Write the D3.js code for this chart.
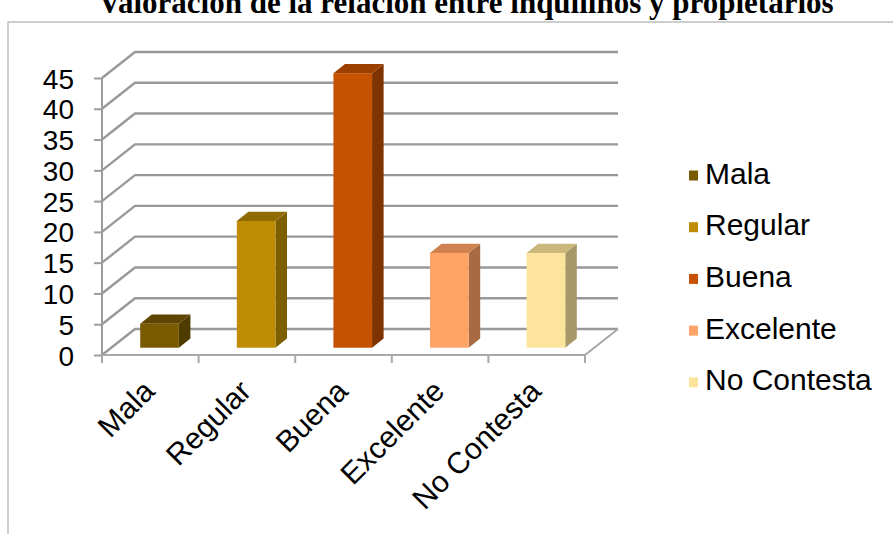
<!DOCTYPE html>
<html>
<head>
<meta charset="utf-8">
<script src="https://cdn.jsdelivr.net/npm/d3@7"></script>
<style>
  body { margin: 0; background: #fff; }
  svg { display: block; }
  text { font-family: "Liberation Sans", Arial, sans-serif; fill: #000; }
</style>
</head>
<body>
<div id="container"></div>
<script>
// chart data
var categories = ["Mala", "Regular", "Buena", "Excelente", "No Contesta"];
var values = [3.9, 20.6, 44.6, 15.4, 15.4];
var yTicks = [0, 5, 10, 15, 20, 25, 30, 35, 40, 45];
var titleText = "Valoración de la relación entre inquilinos y propietarios";

// colours per category: front, top, side
var frontColors = ["#7a5a00", "#bf8c05", "#c55200", "#ffa466", "#fde49d"];
var topColors = ["#5f4600", "#8f6a00", "#9c4000", "#cf8150", "#cbb67c"];
var sideColors = ["#4f3a00", "#7f5e00", "#7f3300", "#a86a42", "#a89868"];

var w = 893, h = 534;

var svg = d3.select("div#container")
  .append("svg")
  .attr("width", w)
  .attr("height", h);

// frame + title (title is clipped by the top edge, as in the source)
svg.append("path")
  .attr("d", "M8,534V22H893")
  .attr("fill", "none")
  .attr("stroke", "#bdbdbd")
  .attr("stroke-width", 1.5);

svg.append("text")
  .attr("x", 466)
  .attr("y", 13)
  .attr("text-anchor", "middle")
  .style("font-family", "'Liberation Serif', 'Times New Roman', serif")
  .style("font-weight", "bold")
  .style("font-size", "31px")
  .text(titleText);

// 3d-ish geometry
var x0 = 102, x1 = 585;
var DX = 33, DY = 26;   // wall depth offset
var f0 = 0.28, fd = 0.35; // bar depth start / depth fraction

var y = d3.scaleLinear().domain([0, 45]).range([355, 78]);
var x = d3.scaleBand().domain(categories).range([x0, x1])
  .paddingInner(0.6).paddingOuter(0.3);

// left wall diagonals + back wall gridlines
var grid = svg.append("g").attr("class", "grid");
yTicks.forEach(function(t) {
  grid.append("path")
    .attr("d", "M" + x0 + "," + y(t) + "L" + (x0 + DX) + "," + (y(t) - DY) + "H" + (x1 + DX))
    .attr("fill", "none")
    .attr("stroke", "#999")
    .attr("stroke-width", 2.4)
    .attr("stroke-linejoin", "round");
});

// floor front edge and right edge
svg.append("path")
  .attr("d", "M" + x0 + "," + y(0) + "H" + x1 + "L" + (x1 + DX) + "," + (y(0) - DY))
  .attr("fill", "none")
  .attr("stroke", "#a8a8a8")
  .attr("stroke-width", 2);

// y axis
var yAxis = d3.axisLeft(y).tickValues(yTicks).tickSize(8).tickPadding(20);
var ya = svg.append("g")
  .attr("transform", "translate(" + x0 + ",0)")
  .call(yAxis);
ya.select(".domain").remove();
ya.selectAll("line").attr("stroke", "#9c9c9c").attr("stroke-width", 2);
ya.selectAll("text")
  .style("font-size", "28px")
  .style("font-family", "'Liberation Sans', Arial, sans-serif")
  .attr("dy", "0.36em");
svg.append("line")
  .attr("x1", x0).attr("x2", x0)
  .attr("y1", y(45)).attr("y2", y(0) + 8)
  .attr("stroke", "#9c9c9c").attr("stroke-width", 2);

// x ticks at category boundaries
var bounds = d3.range(categories.length + 1).map(function(i) { return x0 + i * x.step(); });
svg.append("g").selectAll("line")
  .data(bounds)
  .join("line")
  .attr("x1", function(d) { return d; })
  .attr("x2", function(d) { return d; })
  .attr("y1", y(0))
  .attr("y2", y(0) + 8)
  .attr("stroke", "#a8a8a8")
  .attr("stroke-width", 2);

// x labels
svg.append("g").selectAll("text")
  .data(categories)
  .join("text")
  .attr("text-anchor", "end")
  .attr("transform", function(d) {
    return "translate(" + (x(d) + x.bandwidth() / 2 + 6) + ",393) rotate(-45)";
  })
  .style("font-size", "30px")
  .text(function(d) { return d; });

// bars
var bw = x.bandwidth();
var ox = f0 * DX, oy = f0 * DY, dx = fd * DX, dy = fd * DY;
var bars = svg.append("g").selectAll("g")
  .data(categories)
  .join("g");

bars.append("path") // side
  .attr("d", function(d, i) {
    var l = x(d) + ox + bw, t = y(values[i]) - oy, b = y(0) - oy;
    return "M" + l + "," + t + "L" + (l + dx) + "," + (t - dy) + "L" + (l + dx) + "," + (b - dy) + "L" + l + "," + b + "Z";
  })
  .attr("fill", function(d, i) { return sideColors[i]; });

bars.append("path") // top
  .attr("d", function(d, i) {
    var l = x(d) + ox, t = y(values[i]) - oy;
    return "M" + l + "," + t + "L" + (l + bw) + "," + t + "L" + (l + bw + dx) + "," + (t - dy) + "L" + (l + dx) + "," + (t - dy) + "Z";
  })
  .attr("fill", function(d, i) { return topColors[i]; });

bars.append("rect") // front
  .attr("x", function(d) { return x(d) + ox; })
  .attr("y", function(d, i) { return y(values[i]) - oy; })
  .attr("width", bw)
  .attr("height", function(d, i) { return y(0) - y(values[i]); })
  .attr("fill", function(d, i) { return frontColors[i]; });

// legend
var legend = svg.append("g").selectAll("g")
  .data(categories)
  .join("g")
  .attr("transform", function(d, i) { return "translate(689," + (183.5 + i * 51.7) + ")"; });

legend.append("rect")
  .attr("x", 0).attr("y", -13)
  .attr("width", 9).attr("height", 10)
  .attr("fill", function(d, i) { return frontColors[i]; });

legend.append("text")
  .attr("x", 16)
  .attr("y", 0)
  .style("font-size", "30px")
  .text(function(d) { return d; });
</script>
</body>
</html>
